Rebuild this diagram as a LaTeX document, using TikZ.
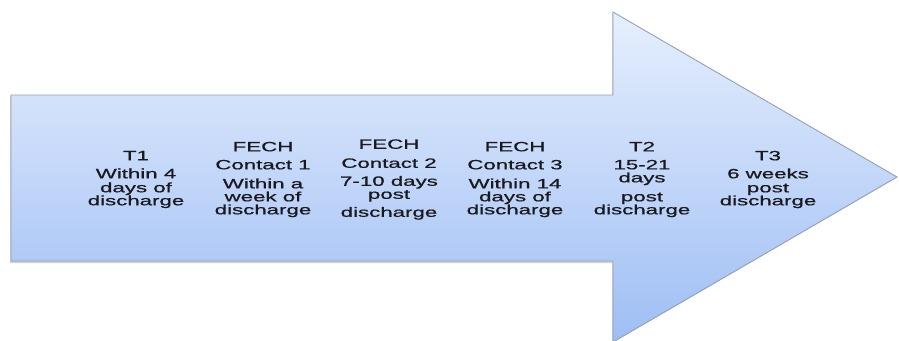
\documentclass[tikz,border=0pt]{standalone}
\usepackage{fontspec}
\setmainfont{Liberation Sans}
\newfontfamily\lblfamily{Liberation Sans}[FakeBold=0.6]
\definecolor{arrtop}{RGB}{230,239,253}
\definecolor{arrbot}{RGB}{158,190,244}
\definecolor{arredge}{RGB}{150,160,178}
\definecolor{txt}{RGB}{25,25,30}
\begin{document}
\begin{tikzpicture}[x=1pt,y=-1pt,
  lbl/.style={align=center, font=\lblfamily\fontsize{13.5}{13}\selectfont, xscale=1.65, inner sep=0pt, text=txt},
  arrowbody/.style={draw=arredge, line width=0.9pt, top color=arrtop, bottom color=arrbot, line join=miter},
  arrowshadow/.style={fill=black, opacity=0.18}]
\useasboundingbox (0,0) rectangle (899,340);
\begin{scope}
\clip (0,0) rectangle (899,340);
\path[arrowshadow] (10,96) -- (612,96) -- (612,13) -- (896,178) -- (612,343) -- (612,263) -- (10,263) -- cycle;
\path[arrowbody] (11,95) -- (613,95) -- (613,12) -- (897,177) -- (613,342) -- (613,261) -- (11,261) -- cycle;
\end{scope}
\node[lbl] (t1) at (136,179.5) {T1\\[5pt]Within 4\\[1pt]days of\\discharge};
\node[lbl] (c1) at (263,179.5) {FECH\\[5pt]Contact 1\\[6pt]Within a\\week of\\discharge};
\node[lbl] (c2) at (389,179.5) {FECH\\[6pt]Contact 2\\[5pt]7-10 days\\post\\[5pt]discharge};
\node[lbl] (c3) at (515,179.5) {FECH\\[5pt]Contact 3\\[6pt]Within 14\\days of\\discharge};
\node[lbl] (t2) at (642,179.5) {T2\\[5pt]15-21\\days\\[6pt]post\\discharge};
\node[lbl] (t3) at (768,179.5) {T3\\[5pt]6 weeks\\[1pt]post\\discharge};
\end{tikzpicture}
\end{document}
